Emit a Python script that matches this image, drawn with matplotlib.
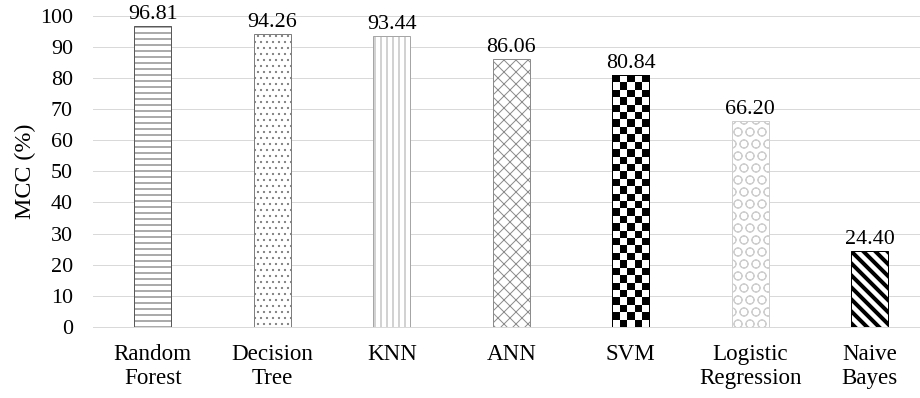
import numpy as np
import matplotlib
matplotlib.use("Agg")
import matplotlib.pyplot as plt

models = ["Random\nForest", "Decision\nTree", "KNN", "ANN", "SVM",
          "Logistic\nRegression", "Naive\nBayes"]
mcc = [96.81, 94.26, 93.44, 86.06, 80.84, 66.20, 24.40]
y_ticks = list(range(0, 101, 10))

# hatch, edge colour, hatch line width per model (SVM gets a checkerboard fill)
STYLES = [
    ("--", "#595959", 1.0),
    ("..", "#7f7f7f", 1.0),
    ("||", "#a6a6a6", 1.0),
    ("xx", "#8c8c8c", 1.0),
    (None, "#000000", 1.0),
    ("O", "#cfcfcf", 1.0),
    ("\\\\", "#000000", 4.0),
]

plt.rcParams["font.family"] = ["Liberation Serif", "DejaVu Serif"]

# dpi 72 keeps hatch spacing at 12 px per unit pattern
DPI = 72
fig = plt.figure(figsize=(920 / DPI, 398 / DPI), dpi=DPI)
ax = fig.add_axes([93 / 920, (398 - 327) / 398, 1 - 93 / 920, (327 - 15.7) / 398])

x = np.arange(len(models))
bars = ax.bar(x, mcc, width=0.31, color="white", linewidth=1.0, zorder=3)

for bar, (hatch, ec, hlw) in zip(bars, STYLES):
    bar.set_edgecolor(ec)
    if hatch:
        bar.set_hatch(hatch)
        if hasattr(bar, "set_hatch_linewidth"):
            bar.set_hatch_linewidth(hlw)

XLIM = (-0.5, -0.5 + 827 / 119.5)
ax.set_xlim(*XLIM)
ax.set_ylim(0, 100)

# checkerboard for SVM, clipped to the bar
svm = bars[4]
x0, y0 = svm.get_x(), svm.get_y()
w, h = svm.get_width(), svm.get_height()
p0 = ax.transData.transform((x0, y0))
p1 = ax.transData.transform((x0 + w, y0 + h))
cell = 7.4
ncol = max(1, int(round((p1[0] - p0[0]) / cell)))
nrow = max(1, int(round((p1[1] - p0[1]) / cell)))
checker = (np.add.outer(np.arange(nrow), np.arange(ncol)) % 2).astype(float)
img = ax.imshow(checker, cmap="gray", extent=(x0, x0 + w, y0, y0 + h),
                aspect="auto", interpolation="nearest", zorder=3.5)
img.set_clip_path(svm)
ax.add_patch(plt.Rectangle((x0, y0), w, h, fill=False, edgecolor="black",
                           linewidth=1.0, zorder=4))
ax.set_xlim(*XLIM)
ax.set_ylim(0, 100)

for xi, v in zip(x, mcc):
    ax.annotate(f"{v:.2f}", (xi, v), xytext=(0, 2), textcoords="offset points",
                ha="center", va="bottom", fontsize=22, color="#000000")

ax.set_yticks(y_ticks)
ax.set_xticks(x)
ax.set_xticklabels(models, fontsize=23, linespacing=1.2)
ax.tick_params(axis="y", labelsize=22, length=0, pad=20, colors="#000000")
ax.tick_params(axis="x", length=0, pad=17)
ax.set_ylabel("MCC (%)", fontsize=24, labelpad=4)

ax.grid(axis="y", color="#d9d9d9", linewidth=1.0, zorder=0)
ax.set_axisbelow(True)
for side in ["top", "right", "left"]:
    ax.spines[side].set_visible(False)
ax.spines["bottom"].set_color("#d9d9d9")
ax.spines["bottom"].set_linewidth(1.0)

fig.savefig("out.png", dpi=DPI, facecolor="white")
